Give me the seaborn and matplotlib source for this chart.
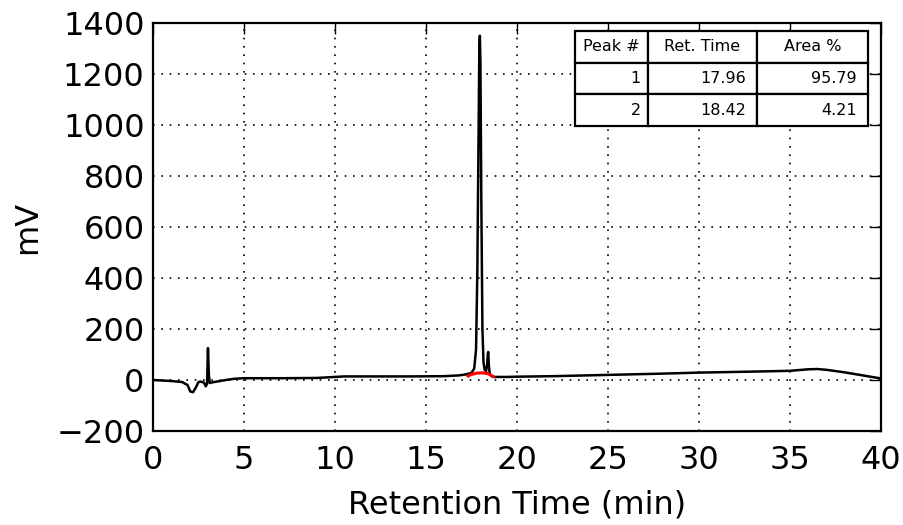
import matplotlib
matplotlib.use("Agg")
import matplotlib.pyplot as plt
import seaborn as sns
import pandas as pd

# Chromatogram trace (retention time in min, signal in mV)
time_min = [0.0, 1.0, 1.6, 1.9, 2.05, 2.2, 2.35, 2.5, 2.6, 2.8, 2.9, 2.97, 3.02, 3.07, 3.12, 3.2, 3.6, 4.0, 4.5,
            5.0, 7.0, 9.0, 9.5, 10.0, 10.5, 12.0, 14.0, 16.0, 16.8, 17.2, 17.5, 17.65, 17.75, 17.82, 17.88,
            17.93, 17.96, 17.99, 18.04, 18.1, 18.16, 18.22, 18.3, 18.36, 18.4, 18.42, 18.45, 18.5, 18.6,
            18.8, 19.5, 20.0, 22.0, 25.0, 28.0, 30.0, 33.0, 35.0, 36.0, 36.5, 37.0, 38.0, 39.0, 40.0]
signal_mv = [0, -4, -8, -20, -45, -48, -30, -8, -6, -10, -25, -15, 125, 20, -12, -10, -5, 0, 5,
             7, 7, 8, 10, 12, 14, 14, 14, 15, 18, 22, 28, 45, 120, 420, 900,
             1300, 1350, 1250, 700, 200, 70, 40, 35, 60, 105, 110, 60, 25, 15,
             12, 12, 13, 15, 20, 25, 29, 33, 36, 42, 43, 40, 30, 18, 6]

# Integration baseline under peaks (red)
base_time = [17.3, 17.5, 17.8, 18.1, 18.4, 18.6, 18.7]
base_mv = [15, 22, 27, 28, 25, 18, 12]

# Peak table
peak_ids = ["1", "2"]
ret_times = ["17.96", "18.42"]
area_pct = ["95.79", "4.21"]

trace = pd.DataFrame({"t": time_min, "mv": signal_mv})
base = pd.DataFrame({"t": base_time, "mv": base_mv})

sns.set_style("white")
plt.rcParams["font.family"] = ["DejaVu Sans"]
plt.rcParams["text.color"] = "black"
plt.rcParams["axes.labelcolor"] = "black"

fig = plt.figure(figsize=(9.04, 5.25), dpi=100)
ax = fig.add_axes([153 / 904, 1 - 431 / 525, (881 - 153) / 904, (431 - 23) / 525])

sns.lineplot(data=trace, x="t", y="mv", ax=ax, color="black", linewidth=1.8, sort=False)
sns.lineplot(data=base, x="t", y="mv", ax=ax, color="red", linewidth=2.2, sort=False)

ax.set_xlim(0, 40)
ax.set_ylim(-200, 1400)
ax.set_xticks(range(0, 41, 5))
ax.set_yticks(range(-200, 1401, 200))
ax.grid(True, color="black", linestyle=(0, (1, 4)), linewidth=1.2)
ax.tick_params(direction="in", length=8, width=1, top=True, right=True,
               labelsize=23, colors="black", pad=6)
ax.tick_params(axis="x", pad=10)
for s in ax.spines.values():
    s.set_color("black")
    s.set_linewidth(1.6)
ax.set_xlabel("Retention Time (min)", fontsize=23, labelpad=10, color="black")
ax.set_ylabel("mV", fontsize=23, labelpad=10, color="black")

# Table
cells = [[peak_ids[i], ret_times[i], area_pct[i]] for i in range(len(peak_ids))]
inv = ax.transAxes.inverted()
x0 = inv.transform(fig.transFigure.transform((575 / 904, 0)))[0]
x1 = inv.transform(fig.transFigure.transform((868 / 904, 0)))[0]
y_top = inv.transform(fig.transFigure.transform((0, 1 - 31 / 525)))[1]
y_bot = inv.transform(fig.transFigure.transform((0, 1 - 126 / 525)))[1]
tbl = ax.table(cellText=cells, colLabels=["Peak #", "Ret. Time", "Area %"],
               cellLoc="right", colLoc="center",
               colWidths=[73, 109, 111],
               bbox=[x0, y_bot, x1 - x0, y_top - y_bot], zorder=5)
tbl.auto_set_font_size(False)
tbl.set_fontsize(11.5)
for (r, c), cell in tbl.get_celld().items():
    cell.set_linewidth(1.6)
    cell.set_edgecolor("black")
    cell.set_facecolor("white")
    cell.get_text().set_color("black")

fig.savefig("out.png", dpi=100)
